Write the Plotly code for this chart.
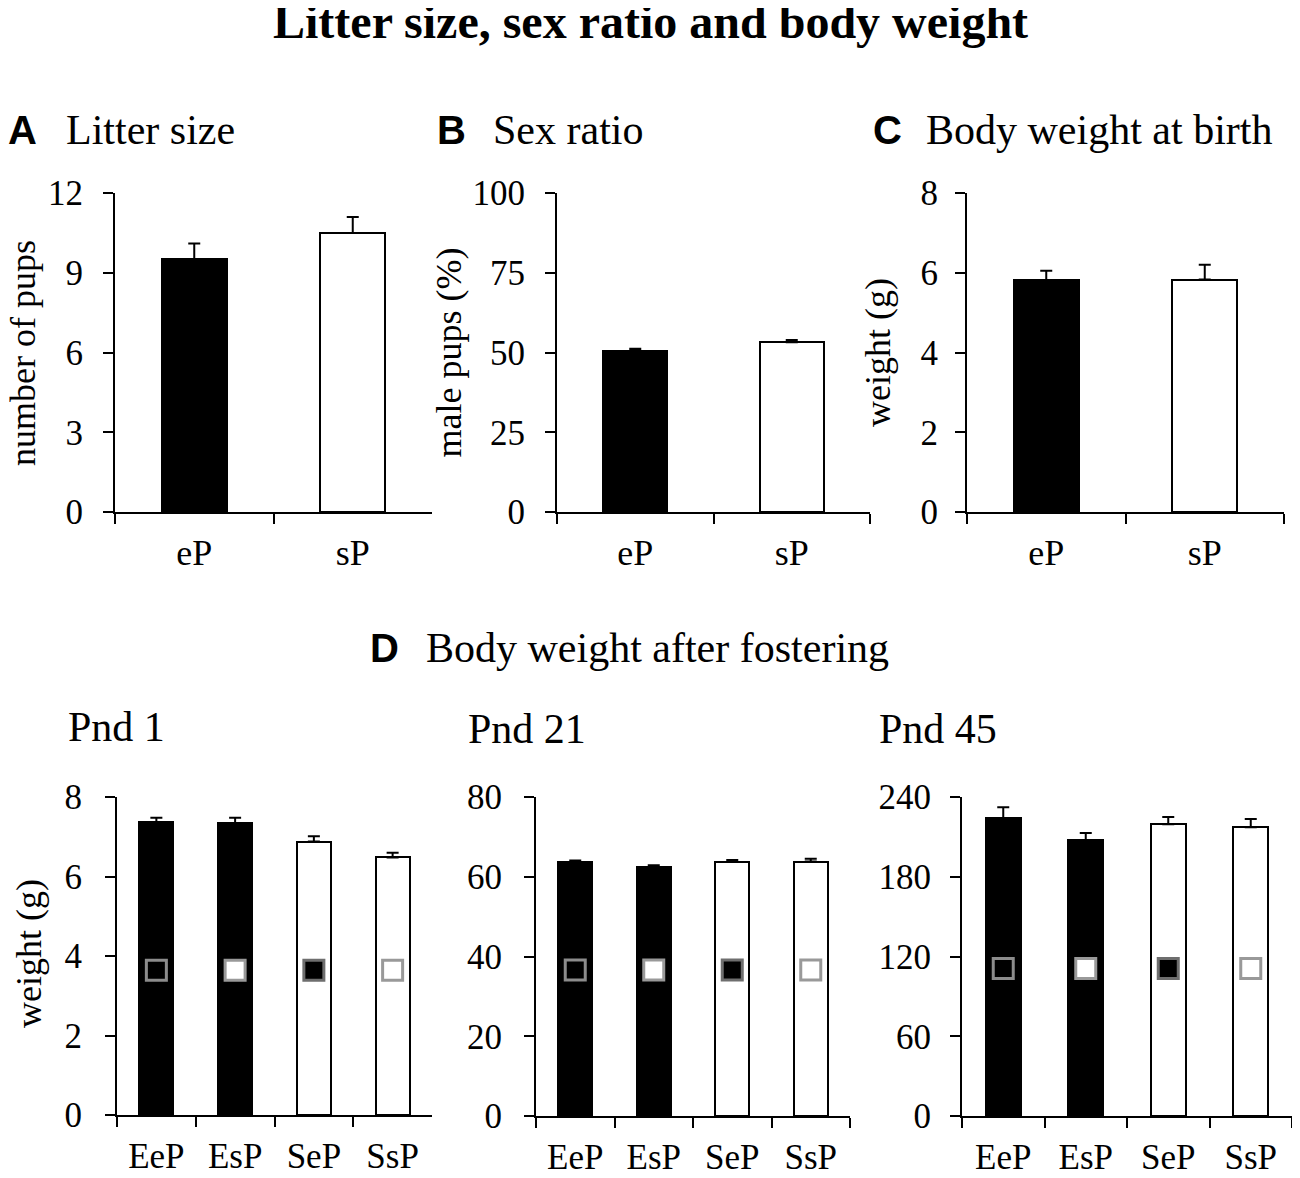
import plotly.graph_objects as go

title = 'Litter size, sex ratio and body weight'

# top row: birth groups
birth_groups = ['eP', 'sP']
litter_size = [9.5, 10.5]
litter_size_err = [0.6, 0.6]
male_pct = [50.6, 53.2]
male_pct_err = [0.6, 0.7]
birth_weight = [5.81, 5.83]
birth_weight_err = [0.24, 0.37]

# bottom row: fostered groups
foster_groups = ['EeP', 'EsP', 'SeP', 'SsP']
pnd1_weight = [7.36, 7.34, 6.88, 6.48]
pnd1_err = [0.12, 0.14, 0.13, 0.12]
pnd21_weight = [63.6, 62.4, 63.7, 63.8]
pnd21_err = [0.5, 0.5, 0.5, 0.7]
pnd45_weight = [224.2, 207.4, 219.5, 217.2]
pnd45_err = [8.1, 5.5, 5.5, 6.2]
# height of the small square key inside each bar (foster mother / pup origin)
key_level = [3.64, 36.6, 111]

SERIF = 'Liberation Serif, Times New Roman, serif'
SANS = 'Liberation Sans, Arial, sans-serif'
W, H = 1300, 1178
OFF = 8  # the page body margin pushes the plot div 8px right and down


def px_x(sx):
    return (sx - OFF) / W


def px_y(sy):
    return 1 - (sy - OFF) / H


birth_colors = ['black', 'white']
foster_colors = ['black', 'black', 'white', 'white']
key_fill = ['black', 'white', 'black', 'white']
key_line = ['#8c8c8c', '#999999', '#6e6e6e', '#999999']

# left-most axis titles sit past the paper edge, so they are drawn as annotations
panels = [
    dict(cats=birth_groups, vals=litter_size, errs=litter_size_err, colors=birth_colors,
         ymax=12, dtick=3, ytitle='', px=(115, 432), py=(193, 512), bw=0.41,
         lab=13, tstand=18, xlab=8, xfont=36),
    dict(cats=birth_groups, vals=male_pct, errs=male_pct_err, colors=birth_colors,
         ymax=100, dtick=25, ytitle='male pups (%)', px=(557, 870), py=(193, 512), bw=0.41,
         lab=13, tstand=0, xlab=8, xfont=36),
    dict(cats=birth_groups, vals=birth_weight, errs=birth_weight_err, colors=birth_colors,
         ymax=8, dtick=2, ytitle='weight (g)', px=(967, 1284), py=(193, 512), bw=0.41,
         lab=10, tstand=19, xlab=8, xfont=36),
    dict(cats=foster_groups, vals=pnd1_weight, errs=pnd1_err, colors=foster_colors,
         ymax=8, dtick=2, ytitle='', px=(117, 432), py=(797, 1115), bw=0.43,
         lab=16, tstand=25, xlab=9, xfont=35, key=key_level[0]),
    dict(cats=foster_groups, vals=pnd21_weight, errs=pnd21_err, colors=foster_colors,
         ymax=80, dtick=20, ytitle='', px=(536, 850), py=(797, 1116), bw=0.43,
         lab=15, tstand=10, xlab=9, xfont=35, key=key_level[1]),
    dict(cats=foster_groups, vals=pnd45_weight, errs=pnd45_err, colors=foster_colors,
         ymax=240, dtick=60, ytitle='', px=(962, 1292), py=(797, 1116), bw=0.42,
         lab=12, tstand=10, xlab=9, xfont=35, key=key_level[2]),
]

fig = go.Figure()
layout = {}

for i, p in enumerate(panels):
    n = i + 1
    xa = 'x' if n == 1 else 'x%d' % n
    ya = 'y' if n == 1 else 'y%d' % n
    fig.add_trace(go.Bar(x=p['cats'], y=p['vals'], xaxis=xa, yaxis=ya,
                         width=p['bw'],
                         marker=dict(color=p['colors'], line=dict(color='black', width=2)),
                         error_y=dict(type='data', array=p['errs'], arrayminus=[0] * len(p['errs']),
                                      symmetric=False, color='black', thickness=2, width=6),
                         showlegend=False))
    if 'key' in p:
        fig.add_trace(go.Scatter(x=p['cats'], y=[p['key']] * len(p['cats']), xaxis=xa, yaxis=ya,
                                 mode='markers', showlegend=False,
                                 marker=dict(symbol='square', size=20, color=key_fill,
                                             line=dict(color=key_line, width=3))))
    xname = 'xaxis' if n == 1 else 'xaxis%d' % n
    yname = 'yaxis' if n == 1 else 'yaxis%d' % n
    layout[xname] = dict(domain=[px_x(p['px'][0]), px_x(p['px'][1])], anchor=ya, type='category',
                         range=[-0.5, len(p['cats']) - 0.5], tickson='boundaries',
                         ticks='outside', ticklen=10, tickwidth=2, tickcolor='black',
                         showline=True, linewidth=2, linecolor='black', showgrid=False,
                         zeroline=False, ticklabelstandoff=p['xlab'], automargin=False,
                         tickfont=dict(family=SERIF, size=p['xfont'], color='black'))
    layout[yname] = dict(domain=[px_y(p['py'][1]), px_y(p['py'][0])], anchor=xa,
                         range=[0, p['ymax']], dtick=p['dtick'], tick0=0,
                         ticks='outside', ticklen=10, tickwidth=2, tickcolor='black',
                         showline=True, linewidth=2, linecolor='black', showgrid=False,
                         zeroline=False, ticklabelstandoff=p['lab'], automargin=False,
                         tickfont=dict(family=SERIF, size=35, color='black'),
                         title=dict(text=p['ytitle'], standoff=p['tstand'],
                                    font=dict(family=SERIF, size=36, color='black')))

fig.update_layout(**layout)


def note(text, x, y, font, size, bold=False, xanchor='left', angle=0):
    t = '<b>%s</b>' % text if bold else text
    fig.add_annotation(text=t, x=px_x(x), y=px_y(y), xref='paper', yref='paper',
                       xanchor=xanchor, yanchor='middle', showarrow=False, textangle=angle,
                       font=dict(family=font, size=size, color='black'))


note(title, 650, 21, SERIF, 48, bold=True, xanchor='center')
note('A', 6, 130, SANS, 40, bold=True)
note('Litter size', 64, 130, SERIF, 42)
note('B', 435, 130, SANS, 40, bold=True)
note('Sex ratio', 491, 130, SERIF, 42)
note('C', 871, 130, SANS, 40, bold=True)
note('Body weight at birth', 924, 130, SERIF, 42)
note('D', 368, 648, SANS, 40, bold=True)
note('Body weight after fostering', 424, 648, SERIF, 42)
note('Pnd 1', 66, 727, SERIF, 42)
note('Pnd 21', 466, 729, SERIF, 42)
note('Pnd 45', 877, 729, SERIF, 42)
note('number of pups', 23, 353, SERIF, 36, xanchor='center', angle=-90)
note('weight (g)', 29, 954, SERIF, 36, xanchor='center', angle=-90)

fig.update_layout(width=W, height=H, margin=dict(l=0, r=0, t=0, b=0, pad=0),
                  plot_bgcolor='white', paper_bgcolor='white', bargap=0)

fig.write_html('out.html')
